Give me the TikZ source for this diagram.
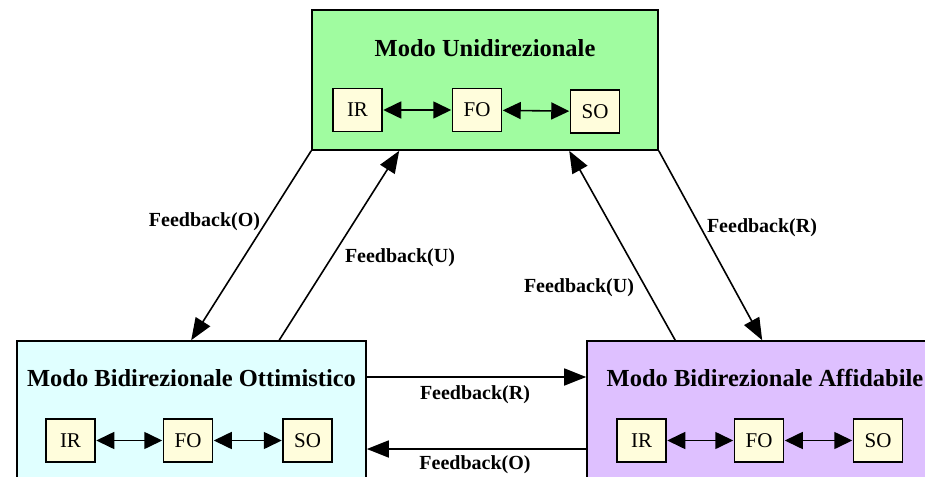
\documentclass[tikz,border=0pt]{standalone}
\usepackage{fontspec}
\setmainfont{Liberation Serif}
\usetikzlibrary{arrows.meta}

\definecolor{unigreen}{HTML}{A0FCA0}
\definecolor{ottcyan}{HTML}{E0FFFF}
\definecolor{affviolet}{HTML}{DEC0FF}
\definecolor{stageyellow}{HTML}{FFFDDC}

\tikzset{
  modebox/.style={draw=black, line width=1.6pt, minimum height=140pt, inner sep=0pt},
  modetitle/.style={font=\fontsize{24.5}{28}\selectfont\bfseries, inner sep=0pt},
  stagebox/.style={draw=black, line width=1.5pt, fill=stageyellow, minimum width=49pt,
    minimum height=43pt, inner sep=0pt, font=\fontsize{21}{24}\selectfont},
  link/.style={line width=1.6pt, {Triangle[length=18pt,width=17pt]}-{Triangle[length=18pt,width=17pt]},
    shorten <=0.5pt, shorten >=0.5pt},
  feedback/.style={line width=1.6pt, -{Triangle[length=22pt,width=17pt]}},
  fblabel/.style={font=\fontsize{20}{23}\selectfont\bfseries, inner sep=0pt}
}

\begin{document}
\begin{tikzpicture}[x=1pt, y=-1pt]
  \clip (0,0) rectangle (925,476);

  % the three operating modes
  \node[modebox, fill=unigreen,  minimum width=346pt] (uni) at (485,80)  {};
  \node[modebox, fill=ottcyan,   minimum width=349pt] (ott) at (191.5,411) {};
  \node[modebox, fill=affviolet, minimum width=356pt] (aff) at (765,411) {};

  \node[modetitle] (unititle) at (485,48)    {Modo Unidirezionale};
  \node[modetitle] (otttitle) at (191.5,378) {Modo Bidirezionale Ottimistico};
  \node[modetitle] (afftitle) at (765,378)   {Modo Bidirezionale Affidabile};

  % stages inside each mode
  \node[stagebox] (uIR) at (357.5,110) {IR};
  \node[stagebox] (uFO) at (477,110)   {FO};
  \node[stagebox] (uSO) at (595,111.5) {SO};

  \node[stagebox] (oIR) at (70.5,440.5) {IR};
  \node[stagebox] (oFO) at (188,440.5)  {FO};
  \node[stagebox] (oSO) at (307.5,440.5) {SO};

  \node[stagebox] (aIR) at (641.5,440.5) {IR};
  \node[stagebox] (aFO) at (759,440.5)   {FO};
  \node[stagebox] (aSO) at (878,440.5)   {SO};

  \draw[link] (uIR) -- (uFO);
  \draw[link] (uFO) -- (uSO);
  \draw[link] (oIR) -- (oFO);
  \draw[link] (oFO) -- (oSO);
  \draw[link] (aIR) -- (aFO);
  \draw[link] (aFO) -- (aSO);

  % feedback transitions between modes
  \draw[feedback] (uni.south west) -- ([xshift=175pt]ott.north west);
  \draw[feedback] ([xshift=263pt]ott.north west) -- ([xshift=88pt]uni.south west);
  \draw[feedback] ([xshift=89pt]aff.north west) -- ([xshift=258pt]uni.south west);
  \draw[feedback] (uni.south east) -- ([xshift=176pt]aff.north west);
  \draw[feedback] ([yshift=34pt]ott.east) -- ([yshift=34pt]aff.west);
  \draw[feedback] ([yshift=-38pt]aff.west) -- ([yshift=-38pt]ott.east);

  \node[fblabel] (fbO1) at (204.5,222) {Feedback(O)};
  \node[fblabel] (fbU1) at (400,258)   {Feedback(U)};
  \node[fblabel] (fbU2) at (579,288)   {Feedback(U)};
  \node[fblabel] (fbR1) at (762,228)   {Feedback(R)};
  \node[fblabel] (fbR2) at (475,395)   {Feedback(R)};
  \node[fblabel] (fbO2) at (475,465)   {Feedback(O)};
\end{tikzpicture}
\end{document}
